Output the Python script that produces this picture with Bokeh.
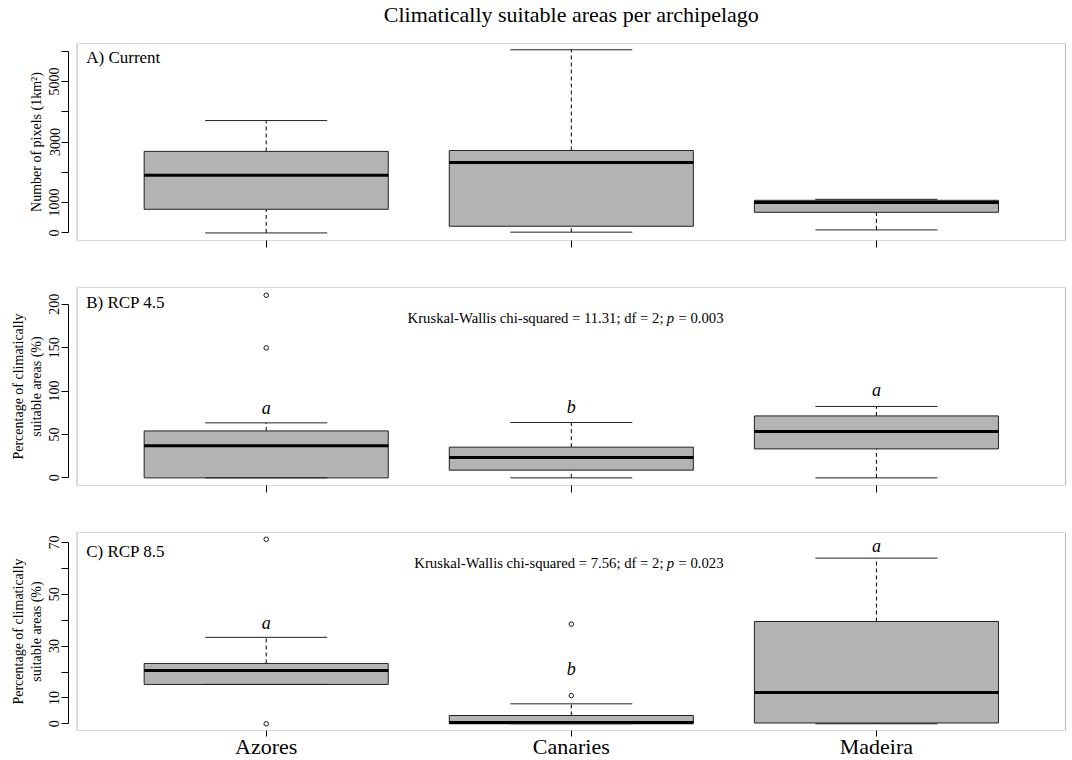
from bokeh.plotting import figure
from bokeh.models import FixedTicker, BoxAnnotation, Range1d, ColumnDataSource
from bokeh.layouts import column
from bokeh.embed import file_html
from bokeh.resources import INLINE
from bokeh.core.properties import value

archipelagos = ["Azores", "Canaries", "Madeira"]
main_title = "Climatically suitable areas per archipelago"

# Panel A: Current (number of pixels)
a_low = [0, 25, 100]
a_q1 = [780, 220, 681]
a_med = [1900, 2322, 1000]
a_q3 = [2690, 2720, 1076]
a_high = [3707, 6043, 1109]
a_out_group = []
a_out_val = []

# Panel B: RCP 4.5 (%)
b_low = [0, 0, 0]
b_q1 = [0, 8.9, 33.4]
b_med = [36.9, 23.5, 53.5]
b_q3 = [54.1, 35.4, 71.4]
b_high = [63.4, 63.8, 82.3]
b_out_group = ["Azores", "Azores"]
b_out_val = [210.5, 149.8]
b_letters = ["a", "b", "a"]
b_letter_y = [81, 82, 101]
b_stats = ("11.31", "2", "0.003")

# Panel C: RCP 8.5 (%)
c_low = [15.2, 0, 0]
c_q1 = [15.2, 0, 0.3]
c_med = [20.6, 0.5, 12.1]
c_q3 = [23.3, 3.2, 39.5]
c_high = [33.4, 7.7, 64.0]
c_out_group = ["Azores", "Azores", "Canaries", "Canaries"]
c_out_val = [71.3, 0.0, 38.5, 10.9]
c_letters = ["a", "b", "a"]
c_letter_y = [38.8, 21.0, 68.6]
c_stats = ("7.56", "2", "0.023")

SERIF = "Liberation Serif"
BOX_FILL = "#b3b3b3"
X_RANGE = (0.352, 3.623)


def make_title():
    t = figure(frame_width=998, frame_height=30, x_range=Range1d(*X_RANGE),
               y_range=Range1d(0, 30), output_backend="svg",
               toolbar_location=None, min_border_left=68, min_border_right=2,
               min_border_top=0, min_border_bottom=0,
               background_fill_color="white", border_fill_color="white")
    t.axis.visible = False
    t.grid.visible = False
    t.outline_line_color = None
    t.text(x=[2], y=[16], text=[main_title], text_font=value(SERIF),
           text_font_size="22px", text_align="center", text_baseline="middle",
           text_color="black")
    return t


def make_panel(low, q1, med, q3, high, out_group, out_val, ylim, ylabeled,
               yunlabeled, ylabel, tag, tag_y, letters=None, letter_y=None,
               stats=None, stats_y=None, bottom_labels=False,
               border_top=27, border_bottom=20, frame_height=198):
    xs = [i + 1 for i in range(len(archipelagos))]
    src = ColumnDataSource(dict(
        x=xs,
        left=[x - 0.4 for x in xs], right=[x + 0.4 for x in xs],
        cl=[x - 0.2 for x in xs], cr=[x + 0.2 for x in xs],
        low=low, q1=q1, med=med, q3=q3, high=high,
    ))
    p = figure(frame_width=998, frame_height=frame_height,
               x_range=Range1d(*X_RANGE), y_range=Range1d(*ylim),
               output_backend="svg", toolbar_location=None,
               min_border_left=68, min_border_right=2,
               min_border_top=border_top, min_border_bottom=border_bottom,
               background_fill_color="white", border_fill_color="white")
    p.outline_line_color = None
    p.grid.visible = False

    # box frame
    p.add_layout(BoxAnnotation(left=0.38, right=3.62, fill_alpha=0,
                               line_color="black", line_width=1, level="overlay"))

    # whiskers
    p.segment(x0="x", y0="q3", x1="x", y1="high", source=src,
              line_color="black", line_width=1, line_dash="4 3")
    p.segment(x0="x", y0="low", x1="x", y1="q1", source=src,
              line_color="black", line_width=1, line_dash="4 3")
    # boxes
    p.quad(left="left", right="right", bottom="q1", top="q3", source=src,
           fill_color=BOX_FILL, line_color="#222222", line_width=1)
    # medians
    p.segment(x0="left", y0="med", x1="right", y1="med", source=src,
              line_color="black", line_width=3)
    # caps
    p.segment(x0="cl", y0="high", x1="cr", y1="high", source=src,
              line_color="#222222", line_width=1)
    p.segment(x0="cl", y0="low", x1="cr", y1="low", source=src,
              line_color="#222222", line_width=1)
    # outliers
    if out_val:
        ox = [archipelagos.index(g) + 1 for g in out_group]
        p.scatter(x=ox, y=out_val, marker="circle", size=4.5, fill_color=None,
                  line_color="black", line_width=0.9)

    # group letters
    if letters:
        p.text(x=xs, y=letter_y, text=letters, text_font=value(SERIF),
               text_font_style="italic", text_font_size="18px",
               text_align="center", text_baseline="middle", text_color="black")

    # panel tag
    p.text(x=[0.41], y=[tag_y], text=[tag], text_font=value(SERIF),
           text_font_size="17px", text_align="left", text_baseline="middle",
           text_color="black")

    # Kruskal-Wallis text
    if stats:
        chi, df, pv = stats
        xp = 2.325
        p.text(x=[xp], y=[stats_y],
               text=["Kruskal-Wallis chi-squared = %s; df = %s;" % (chi, df)],
               text_font=value(SERIF), text_font_size="14.7px",
               text_align="right", text_baseline="middle", x_offset=-7,
               text_color="black")
        p.text(x=[xp], y=[stats_y], text=["p"], text_font=value(SERIF),
               text_font_style="italic", text_font_size="14.7px",
               text_align="center", text_baseline="middle", text_color="black")
        p.text(x=[xp], y=[stats_y], text=["= %s" % pv],
               text_font=value(SERIF), text_font_size="14.7px",
               text_align="left", text_baseline="middle", x_offset=8,
               text_color="black")

    # y axis
    ya = p.yaxis[0]
    ya.ticker = FixedTicker(ticks=ylabeled, minor_ticks=yunlabeled)
    allt = sorted(ylabeled + yunlabeled)
    ya.bounds = (allt[0], allt[-1])
    ya.major_label_orientation = "vertical"
    ya.major_label_text_font = SERIF
    ya.major_label_text_font_size = "14px"
    ya.major_label_text_color = "black"
    ya.major_label_standoff = 2
    ya.major_tick_out = 7
    ya.major_tick_in = 0
    ya.minor_tick_out = 7
    ya.minor_tick_in = 0
    ya.axis_line_color = "black"
    ya.major_tick_line_color = "black"
    ya.minor_tick_line_color = "black"
    ya.axis_label = ylabel
    ya.axis_label_text_font = SERIF
    ya.axis_label_text_font_size = "14px"
    ya.axis_label_text_font_style = "normal"
    ya.axis_label_text_color = "black"
    ya.axis_label_standoff = 3

    # x axis
    xa = p.xaxis[0]
    xa.axis_line_color = None
    xa.major_tick_in = 0
    xa.minor_tick_in = 0
    xa.major_tick_line_color = "black"
    xa.minor_tick_line_color = "black"
    if bottom_labels:
        xa.ticker = FixedTicker(ticks=xs, minor_ticks=[])
        xa.major_label_overrides = {x: n for x, n in zip(xs, archipelagos)}
        xa.major_label_text_font = SERIF
        xa.major_label_text_font_size = "22px"
        xa.major_label_text_color = "black"
        xa.major_label_standoff = -3
        xa.major_tick_out = 6
        xa.minor_tick_out = 0
    else:
        xa.ticker = FixedTicker(ticks=[], minor_ticks=xs)
        xa.major_tick_out = 0
        xa.minor_tick_out = 7
    return p


pT = make_title()
pA = make_panel(a_low, a_q1, a_med, a_q3, a_high, a_out_group, a_out_val,
                (-250, 6250), [0, 1000, 3000, 5000], [2000, 4000, 6000],
                "Number of pixels (1km\u00b2)",
                "A) Current", 5780,
                border_top=13, border_bottom=20, frame_height=197)
pB = make_panel(b_low, b_q1, b_med, b_q3, b_high, b_out_group, b_out_val,
                (-8.8, 219.4), [0, 50, 100, 150, 200], [],
                "Percentage of climatically\nsuitable areas (%)",
                "B) RCP 4.5", 202, letters=b_letters, letter_y=b_letter_y,
                stats=b_stats, stats_y=184, border_top=27, border_bottom=20)
pC = make_panel(c_low, c_q1, c_med, c_q3, c_high, c_out_group, c_out_val,
                (-2.6, 73.9), [0, 10, 30, 50, 70], [20, 40, 60],
                "Percentage of climatically\nsuitable areas (%)",
                "C) RCP 8.5", 66.7, letters=c_letters, letter_y=c_letter_y,
                stats=c_stats, stats_y=62, border_top=27, border_bottom=27,
                bottom_labels=True)

layout = column(pT, pA, pB, pC, spacing=0)
open("out.html", "w").write(file_html(layout, INLINE))
